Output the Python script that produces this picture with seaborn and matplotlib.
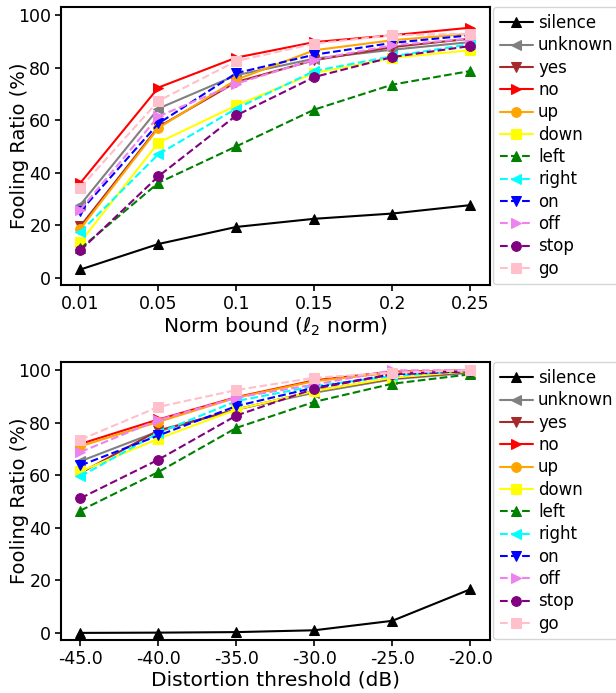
import numpy as np
import pandas as pd
import matplotlib
matplotlib.use("Agg")
import matplotlib.pyplot as plt
import seaborn as sns

# keywords (legend order) and how each one is drawn
keywords = ["silence", "unknown", "yes", "no", "up", "down",
            "left", "right", "on", "off", "stop", "go"]
colors = ["black", "gray", "brown", "red", "orange", "yellow",
          "green", "cyan", "blue", "violet", "purple", "pink"]
markers = ["^", "<", "v", ">", "o", "s", "^", "<", "v", ">", "o", "s"]
dashes = ["-"] * 6 + ["--"] * 6

# top panel: l2 norm bound
norm_bounds = ["0.01", "0.05", "0.1", "0.15", "0.2", "0.25"]
norm_ratio = {
    "silence": [3.2, 12.9, 19.4, 22.5, 24.5, 27.7],
    "unknown": [27.9, 64.5, 77.2, 83.5, 86.9, 89.8],
    "yes":     [19.7, 57.5, 74.6, 82.9, 87.9, 91.1],
    "no":      [36.2, 72.5, 83.9, 89.8, 92.4, 95.3],
    "up":      [18.8, 57.1, 75.5, 86.7, 90.5, 93.0],
    "down":    [13.7, 51.5, 65.7, 78.0, 83.8, 86.7],
    "left":    [11.2, 36.2, 50.1, 64.1, 73.6, 78.8],
    "right":   [17.5, 47.1, 64.5, 78.8, 84.4, 89.0],
    "on":      [25.4, 58.8, 78.0, 85.0, 89.5, 92.4],
    "off":     [26.0, 61.5, 74.0, 83.1, 88.6, 91.1],
    "stop":    [10.5, 38.7, 61.9, 76.5, 84.1, 88.3],
    "go":      [34.4, 67.4, 82.6, 89.2, 92.4, 93.0],
}

# bottom panel: distortion threshold in dB
thresholds = ["-45.0", "-40.0", "-35.0", "-30.0", "-25.0", "-20.0"]
db_ratio = {
    "silence": [0.0, 0.1, 0.3, 1.0, 4.6, 16.6],
    "unknown": [65.4, 76.8, 85.1, 91.5, 96.6, 99.1],
    "yes":     [60.9, 77.1, 85.1, 92.1, 96.9, 99.5],
    "no":      [72.0, 81.3, 89.8, 96.2, 99.5, 100.0],
    "up":      [71.1, 80.4, 89.6, 95.9, 99.1, 100.0],
    "down":    [61.5, 74.0, 85.1, 92.1, 97.2, 99.7],
    "left":    [46.6, 61.3, 78.1, 88.0, 94.9, 98.5],
    "right":   [59.6, 76.2, 88.3, 94.0, 97.8, 100.0],
    "on":      [63.8, 75.2, 86.4, 93.4, 98.5, 99.7],
    "off":     [68.9, 81.1, 89.6, 94.6, 100.0, 100.0],
    "stop":    [51.3, 66.0, 82.8, 93.0, 98.5, 99.7],
    "go":      [73.6, 86.1, 92.5, 97.2, 99.1, 100.0],
}

sns.set_style("ticks")
plt.rcParams["font.family"] = ["DejaVu Sans"]
plt.rcParams["axes.linewidth"] = 1.5
for k in ["text.color", "axes.labelcolor", "xtick.color", "ytick.color", "axes.edgecolor"]:
    plt.rcParams[k] = "black"

fig, axes = plt.subplots(2, 1, figsize=(6.16, 6.93), dpi=100)
fig.subplots_adjust(left=0.099, right=0.795, top=0.99, bottom=0.0765, hspace=0.277)


def draw(ax, xs, table, xlabel):
    for kw, c, m, ls in zip(keywords, colors, markers, dashes):
        df = pd.DataFrame({"x": xs, "y": table[kw]})
        sns.lineplot(data=df, x="x", y="y", ax=ax, color=c, marker=m,
                     linestyle=ls, markersize=7, markeredgecolor=c,
                     linewidth=1.5, label=kw, sort=False)
    ax.set_ylim(-2.7, 103.2)
    ax.set_yticks([0, 20, 40, 60, 80, 100])
    ax.set_xlabel(xlabel, fontsize=14.5, labelpad=2)
    ax.set_ylabel("Fooling Ratio (%)", fontsize=14)
    ax.yaxis.set_label_coords(-0.075, 0.5)
    ax.tick_params(labelsize=12.5, width=1.2, length=4, pad=3)
    ax.legend(loc="center left", bbox_to_anchor=(1.0, 0.5), fontsize=12,
              labelspacing=0.26, handletextpad=0.3, borderaxespad=0.2,
              handlelength=2.0)


draw(axes[0], norm_bounds, norm_ratio, r"Norm bound ($\ell_2$ norm)")
draw(axes[1], thresholds, db_ratio, "Distortion threshold (dB)")

fig.savefig("out.png", dpi=100)
